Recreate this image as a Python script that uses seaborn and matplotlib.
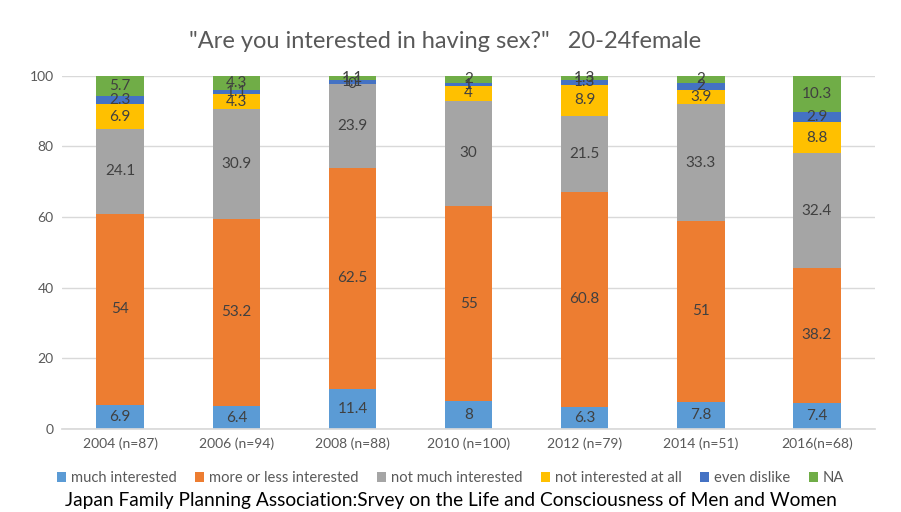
import matplotlib
matplotlib.use("Agg")
import matplotlib.pyplot as plt
import seaborn as sns
import numpy as np
import pandas as pd
from matplotlib.patches import Patch

years = ["2004 (n=87)", "2006 (n=94)", "2008 (n=88)", "2010 (n=100)",
         "2012 (n=79)", "2014 (n=51)", "2016(n=68)"]
much_interested = [6.9, 6.4, 11.4, 8, 6.3, 7.8, 7.4]
more_or_less = [54, 53.2, 62.5, 55, 60.8, 51, 38.2]
not_much = [24.1, 30.9, 23.9, 30, 21.5, 33.3, 32.4]
not_at_all = [6.9, 4.3, 0, 4, 8.9, 3.9, 8.8]
even_dislike = [2.3, 1.1, 1.1, 1, 1.3, 2, 2.9]
na = [5.7, 4.3, 1.1, 2, 1.3, 2, 10.3]

series_names = ["much interested", "more or less interested", "not much interested",
                "not interested at all", "even dislike", "NA"]
series_vals = [much_interested, more_or_less, not_much, not_at_all, even_dislike, na]
colors = ["#5B9BD5", "#ED7D31", "#A5A5A5", "#FFC000", "#4472C4", "#70AD47"]

sns.set_theme(style="white")
plt.rcParams['font.family'] = ['Lato', 'DejaVu Sans']

fig = plt.figure(figsize=(9.01, 5.12), dpi=100)
ax = fig.add_axes([0.069, 0.162, 0.902, 0.69])

bottom = np.zeros(len(years))
for name, vals, c in zip(series_names, series_vals, colors):
    df = pd.DataFrame({"year": years, "v": vals})
    sns.barplot(data=df, x="year", y="v", color=c, width=0.41, bottom=bottom,
                ax=ax, saturation=1, linewidth=0, errorbar=None)
    for i, v in enumerate(vals):
        ax.text(i, bottom[i] + v / 2, f"{v:g}", ha="center", va="center",
                fontsize=11, color="#404040")
    bottom = bottom + np.array(vals)

ax.set_ylim(0, 100)
ax.set_xlim(-0.5, len(years) - 0.5)
ax.set_yticks([0, 20, 40, 60, 80, 100])
ax.yaxis.grid(True, color="#D9D9D9", linewidth=1)
ax.set_axisbelow(True)
for s in ["top", "right", "left"]:
    ax.spines[s].set_visible(False)
ax.spines["bottom"].set_color("#D9D9D9")
ax.set_xlabel("")
ax.set_ylabel("")
ax.tick_params(axis="both", labelsize=10, colors="#595959", length=0, pad=6)

fig.text(0.494, 0.918, '"Are you interested in having sex?"   20-24female',
         ha="center", va="center", fontsize=17, color="#595959")

handles = [Patch(facecolor=c, edgecolor="none") for c in colors]
fig.legend(handles, series_names, loc="center", bbox_to_anchor=(0.5, 0.066),
           ncol=6, frameon=False, fontsize=10.6, handlelength=0.6, handleheight=0.6,
           columnspacing=1.3, handletextpad=0.3, labelcolor="#595959")

fig.text(0.5, 0.022, "Japan Family Planning Association:Srvey on the Life and Consciousness of Men and Women",
         ha="center", va="center", fontsize=13.8, color="black")

fig.savefig("out.png", dpi=100)
